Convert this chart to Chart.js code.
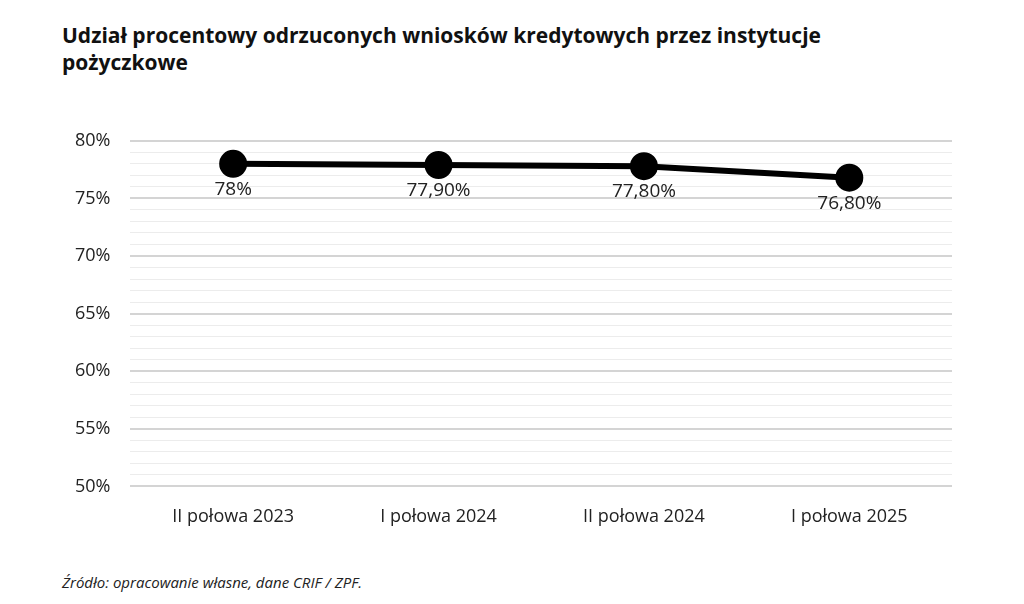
<!DOCTYPE html>
<html><head><meta charset="utf-8">
<script src="https://cdn.jsdelivr.net/npm/chart.js@4"></script>
<style>
body{margin:0;background:#fff;font-family:"Open Sans",sans-serif;}
#t{position:absolute;left:62px;top:22px;font-size:21px;font-weight:bold;line-height:27px;color:#111;width:870px;}
#s{position:absolute;left:62px;top:572px;font-size:15px;font-style:italic;color:#222;}
#w{position:absolute;left:0;top:110px;width:1000px;height:430px;}
</style></head><body>
<div id="t">Udział procentowy odrzuconych wniosków kredytowych przez instytucje pożyczkowe</div>
<div id="w"><canvas id="c"></canvas></div>
<div id="s">Źródło: opracowanie własne, dane CRIF / ZPF.</div>
<script>
const categories=["II połowa 2023","I połowa 2024","II połowa 2024","I połowa 2025"];
const values=[78,77.9,77.8,76.8];
const valueLabels=["78%","77,90%","77,80%","76,80%"];
const lbl={id:'lbl',afterDatasetsDraw(ch){const c=ch.ctx;const m=ch.getDatasetMeta(0);c.save();c.font='19px "Open Sans"';c.fillStyle='#222';c.textAlign='center';c.textBaseline='top';m.data.forEach((p,i)=>c.fillText(valueLabels[i],p.x,p.y+16));c.restore();}};
new Chart(document.getElementById('c'),{type:'line',data:{labels:categories,datasets:[{data:values,borderColor:'#000',backgroundColor:'#000',borderWidth:6,pointRadius:11,pointHoverRadius:11}]},
options:{responsive:true,maintainAspectRatio:false,animation:false,layout:{padding:{left:55,right:48,top:9,bottom:0}},
plugins:{legend:{display:false},tooltip:{enabled:false}},
scales:{y:{min:50,max:80,ticks:{stepSize:1,autoSkip:false,color:'#222',font:{size:18,family:'Open Sans'},padding:20,callback:v=>v%5===0?v+'%':''},grid:{drawTicks:false,color:c=>c.tick&&c.tick.value%5===0?'#d4d4d4':'#ececec',lineWidth:c=>c.tick&&c.tick.value%5===0?2:1},border:{display:false}},
x:{offset:true,ticks:{color:'#222',font:{size:18,family:'Open Sans'},padding:12},grid:{display:false},border:{display:false}}}},plugins:[lbl]});
</script></body></html>
